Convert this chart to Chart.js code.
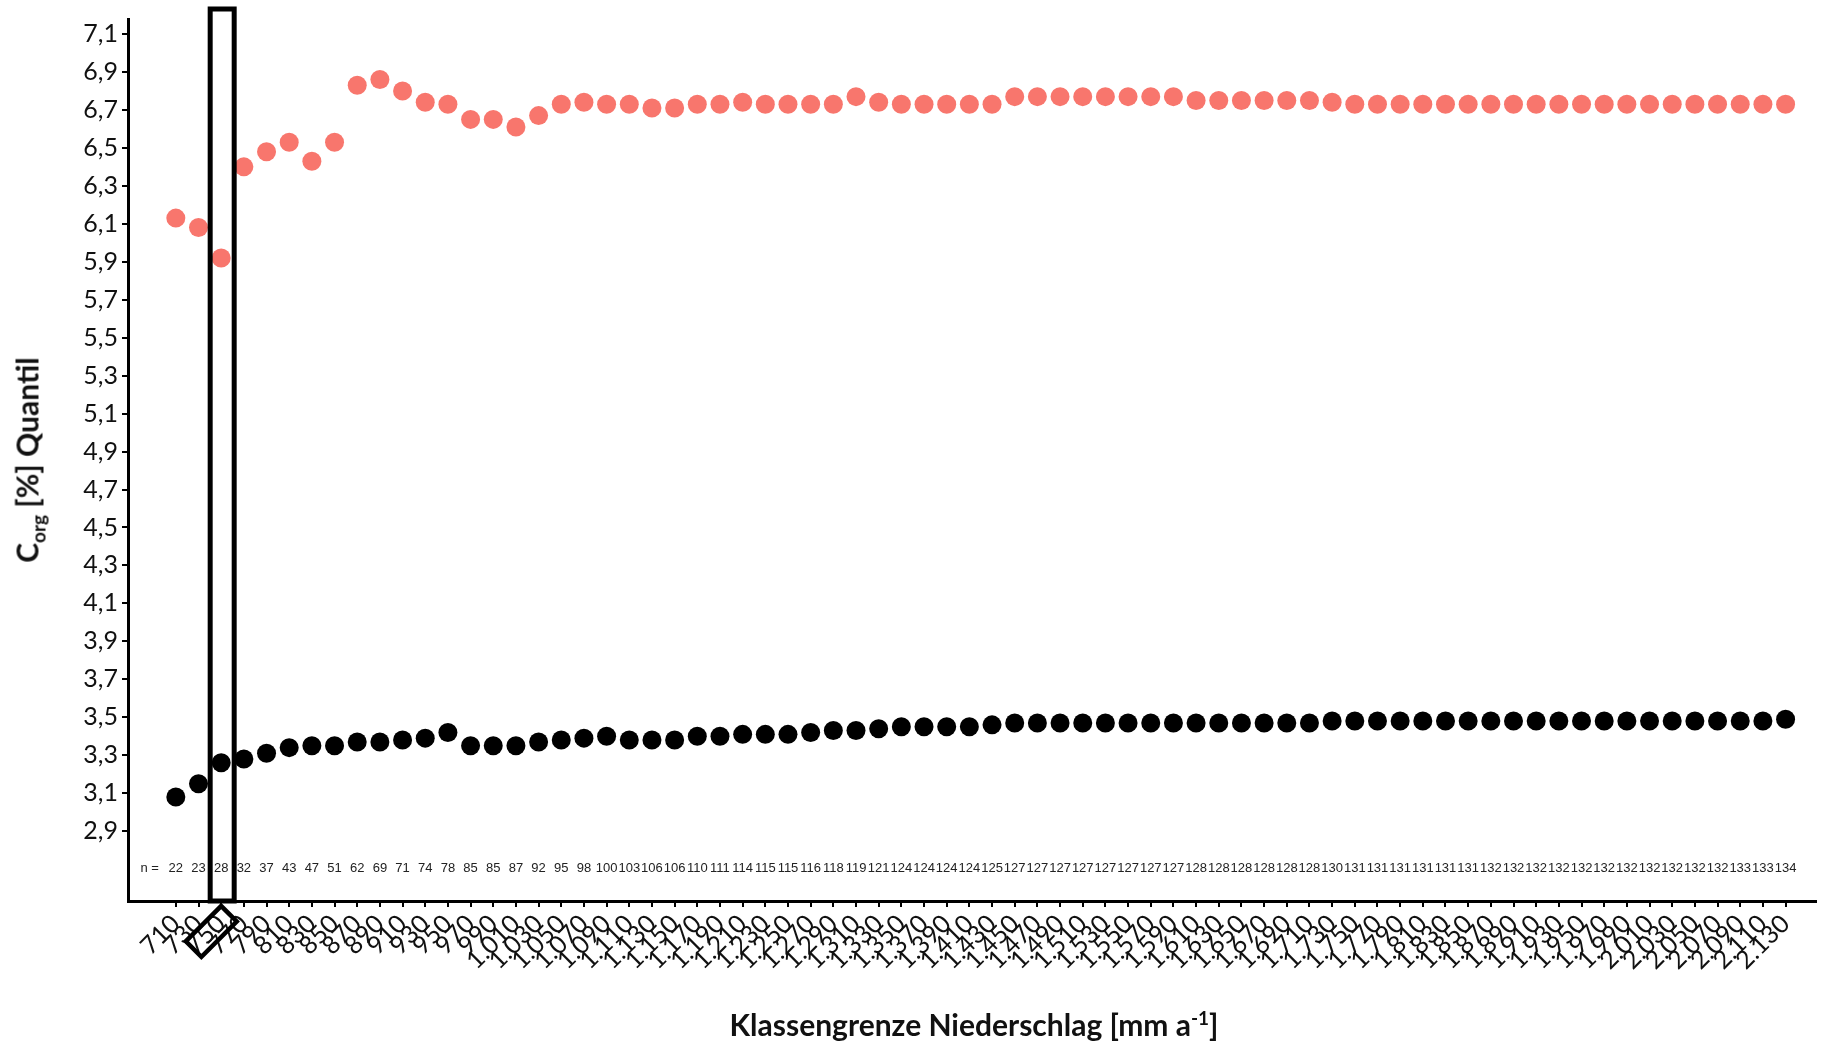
<!DOCTYPE html>
<html>
<head>
<meta charset="utf-8">
<script src="https://cdn.jsdelivr.net/npm/chart.js@4"></script>
<style>
  html, body { margin: 0; padding: 0; background: #fff; }
  #wrap { position: relative; width: 1825px; height: 1042px; }
  #chart { position: absolute; left: 0; top: 0; }
  .axis-title { position: absolute; font-family: 'Lato', sans-serif; font-weight: bold; font-size: 30px; color: #111; white-space: nowrap; }
  .axis-title sub, .axis-title sup { font-size: 19px; }
  #yTitle { left: 29px; top: 460px; transform: translate(-50%, -50%) rotate(-90deg); }
  #xTitle { left: 974px; top: 1024px; transform: translate(-50%, -50%); }
</style>
</head>
<body>
<div id="wrap">
  <canvas id="chart" width="1825" height="1042"></canvas>
  <div class="axis-title" id="yTitle">C<sub>org</sub> [%] Quantil</div>
  <div class="axis-title" id="xTitle">Klassengrenze Niederschlag [mm a<sup>-1</sup>]</div>
</div>
<script>
// Klassengrenzen Niederschlag (mm/a)
const precipClasses = ['710','730','750','770','790','810','830','850','870','890',
  '910','930','950','970','990','1.010','1.030','1.050','1.070','1.090',
  '1.110','1.130','1.150','1.170','1.190','1.210','1.230','1.250','1.270','1.290',
  '1.310','1.330','1.350','1.370','1.390','1.410','1.430','1.450','1.470','1.490',
  '1.510','1.530','1.550','1.570','1.590','1.610','1.630','1.650','1.670','1.690',
  '1.710','1.730','1.750','1.770','1.790','1.810','1.830','1.850','1.870','1.890',
  '1.910','1.930','1.950','1.970','1.990','2.010','2.030','2.050','2.070','2.090',
  '2.110','2.130'];

// oberes Quantil (rot)
const upperQuantile = [6.13, 6.08, 5.92, 6.40, 6.48, 6.53, 6.43, 6.53, 6.83, 6.86,
  6.80, 6.74, 6.73, 6.65, 6.65, 6.61, 6.67, 6.73, 6.74, 6.73,
  6.73, 6.71, 6.71, 6.73, 6.73, 6.74, 6.73, 6.73, 6.73, 6.73,
  6.77, 6.74, 6.73, 6.73, 6.73, 6.73, 6.73, 6.77, 6.77, 6.77,
  6.77, 6.77, 6.77, 6.77, 6.77, 6.75, 6.75, 6.75, 6.75, 6.75,
  6.75, 6.74, 6.73, 6.73, 6.73, 6.73, 6.73, 6.73, 6.73, 6.73,
  6.73, 6.73, 6.73, 6.73, 6.73, 6.73, 6.73, 6.73, 6.73, 6.73,
  6.73, 6.73];

// unteres Quantil (schwarz)
const lowerQuantile = [3.08, 3.15, 3.26, 3.28, 3.31, 3.34, 3.35, 3.35, 3.37, 3.37,
  3.38, 3.39, 3.42, 3.35, 3.35, 3.35, 3.37, 3.38, 3.39, 3.40,
  3.38, 3.38, 3.38, 3.40, 3.40, 3.41, 3.41, 3.41, 3.42, 3.43,
  3.43, 3.44, 3.45, 3.45, 3.45, 3.45, 3.46, 3.47, 3.47, 3.47,
  3.47, 3.47, 3.47, 3.47, 3.47, 3.47, 3.47, 3.47, 3.47, 3.47,
  3.47, 3.48, 3.48, 3.48, 3.48, 3.48, 3.48, 3.48, 3.48, 3.48,
  3.48, 3.48, 3.48, 3.48, 3.48, 3.48, 3.48, 3.48, 3.48, 3.48,
  3.48, 3.49];

// Stichprobenumfang je Klasse
const sampleSizes = [22, 23, 28, 32, 37, 43, 47, 51, 62, 69,
  71, 74, 78, 85, 85, 87, 92, 95, 98, 100,
  103, 106, 106, 110, 111, 114, 115, 115, 116, 118,
  119, 121, 124, 124, 124, 124, 125, 127, 127, 127,
  127, 127, 127, 127, 127, 128, 128, 128, 128, 128,
  128, 130, 131, 131, 131, 131, 131, 131, 132, 132,
  132, 132, 132, 132, 132, 132, 132, 132, 132, 133,
  133, 134];

const yTickValues = [2.9, 3.1, 3.3, 3.5, 3.7, 3.9, 4.1, 4.3, 4.5, 4.7, 4.9,
  5.1, 5.3, 5.5, 5.7, 5.9, 6.1, 6.3, 6.5, 6.7, 6.9, 7.1];

const highlightIndex = 2; // Klasse 750

const colorUpper = '#F8766D';
const colorLower = '#000000';

const toPoints = arr => arr.map((v, i) => ({ x: i, y: v }));

// n-Zeile, Rahmen um Klasse 750 und Raute um das Tick-Label
const annotations = {
  id: 'annotations',
  afterDatasetsDraw(chart) {
    const { ctx, chartArea, scales } = chart;
    const xs = scales.x;
    ctx.save();

    // n = ...
    ctx.font = "13px 'Liberation Sans', Arial, sans-serif";
    ctx.fillStyle = '#222';
    ctx.textBaseline = 'middle';
    const yRow = chartArea.bottom - 33;
    ctx.textAlign = 'right';
    ctx.fillText('n =', xs.getPixelForValue(0) - 17, yRow);
    ctx.textAlign = 'center';
    sampleSizes.forEach((n, i) => {
      ctx.fillText(String(n), xs.getPixelForValue(i), yRow);
    });

    // Rahmen
    const xc = xs.getPixelForValue(highlightIndex) + 1;
    ctx.strokeStyle = '#000';
    ctx.lineWidth = 5;
    ctx.strokeRect(xc - 12, 9, 24, chartArea.bottom - 9);

    // Raute um das Label
    ctx.translate(xc - 1, chartArea.bottom + 5);
    ctx.rotate(-Math.PI / 4);
    ctx.lineWidth = 4.5;
    ctx.strokeRect(-50, 0, 50, 22);
    ctx.restore();
  }
};

new Chart(document.getElementById('chart'), {
  type: 'scatter',
  data: {
    datasets: [
      {
        label: 'oberes Quantil',
        data: toPoints(upperQuantile),
        backgroundColor: colorUpper,
        borderWidth: 0,
        pointRadius: 9.5
      },
      {
        label: 'unteres Quantil',
        data: toPoints(lowerQuantile),
        backgroundColor: colorLower,
        borderWidth: 0,
        pointRadius: 9.5
      }
    ]
  },
  options: {
    responsive: false,
    animation: false,
    layout: { padding: { top: 18, right: 4, left: 0, bottom: 0 } },
    plugins: {
      legend: { display: false },
      tooltip: { enabled: false }
    },
    scales: {
      x: {
        type: 'linear',
        min: -2.11,
        max: 72.32,
        afterFit(scale) { scale.height = 141; },
        afterBuildTicks(scale) {
          scale.ticks = precipClasses.map((_, i) => ({ value: i }));
        },
        grid: { drawOnChartArea: false, drawTicks: true, tickLength: 6, color: '#000', lineWidth: 2 },
        border: { display: true, color: '#000', width: 3 },
        ticks: {
          autoSkip: false,
          minRotation: 45,
          maxRotation: 45,
          padding: 2,
          color: '#111',
          font: { family: "'Lato', sans-serif", size: 25 },
          callback: v => precipClasses[v]
        }
      },
      y: {
        min: 2.532,
        max: 7.179,
        afterFit(scale) { scale.width = 128; },
        afterBuildTicks(scale) {
          scale.ticks = yTickValues.map(v => ({ value: v }));
        },
        grid: { drawOnChartArea: false, drawTicks: true, tickLength: 6, color: '#000', lineWidth: 2 },
        border: { display: true, color: '#000', width: 3 },
        ticks: {
          padding: 4,
          color: '#111',
          font: { family: "'Lato', sans-serif", size: 25 },
          callback: v => v.toFixed(1).replace('.', ',')
        }
      }
    }
  },
  plugins: [annotations]
});
</script>
</body>
</html>
